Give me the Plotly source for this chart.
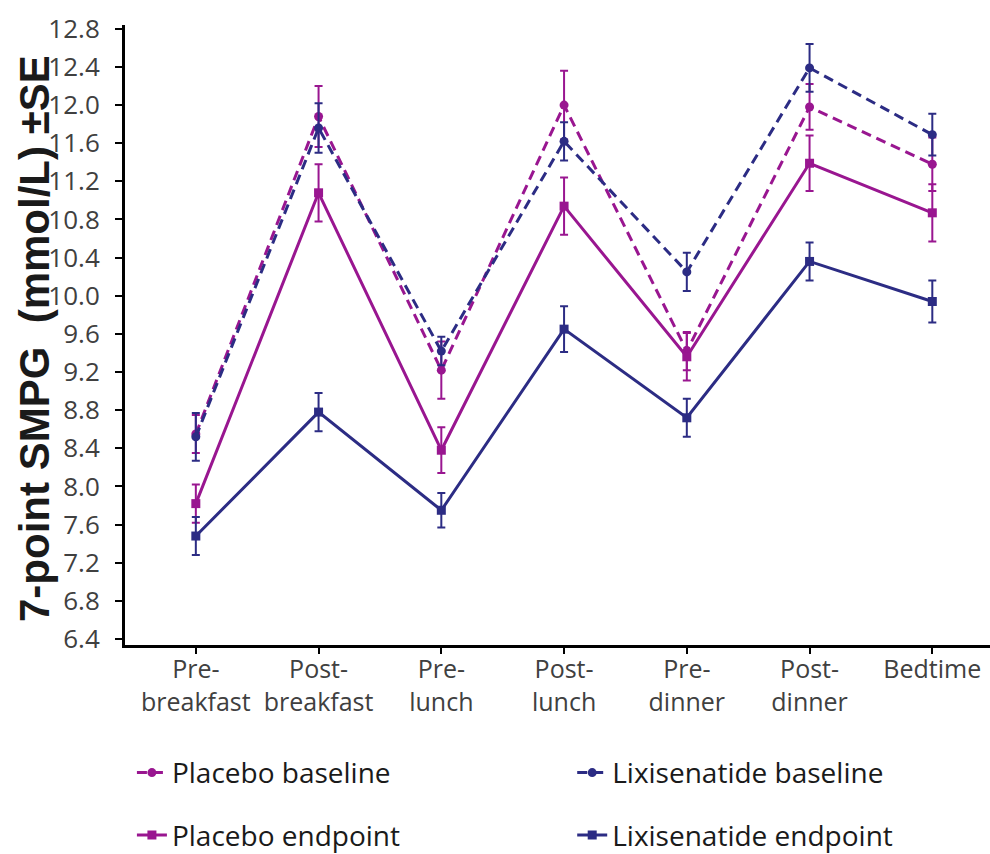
import plotly.graph_objects as go

categories = ["Pre-breakfast", "Post-breakfast", "Pre-lunch", "Post-lunch",
              "Pre-dinner", "Post-dinner", "Bedtime"]
tick_labels = ["Pre-<br>breakfast", "Post-<br>breakfast", "Pre-<br>lunch", "Post-<br>lunch",
               "Pre-<br>dinner", "Post-<br>dinner", "Bedtime"]

placebo_baseline = [8.55, 11.88, 9.22, 12.00, 9.42, 11.98, 11.38]
placebo_baseline_se = [0.20, 0.32, 0.30, 0.36, 0.20, 0.24, 0.28]
lixi_baseline = [8.52, 11.76, 9.42, 11.62, 10.25, 12.39, 11.69]
lixi_baseline_se = [0.25, 0.26, 0.15, 0.20, 0.20, 0.25, 0.22]
placebo_endpoint = [7.82, 11.08, 8.38, 10.94, 9.36, 11.39, 10.87]
placebo_endpoint_se = [0.20, 0.30, 0.24, 0.30, 0.25, 0.29, 0.30]
lixi_endpoint = [7.48, 8.78, 7.75, 9.65, 8.72, 10.36, 9.94]
lixi_endpoint_se = [0.20, 0.20, 0.18, 0.24, 0.20, 0.20, 0.22]

MAG = "#991690"
BLUE = "#2c2c84"

series = [
    ("Placebo baseline", placebo_baseline, placebo_baseline_se, MAG, "10px,6px", "circle", "legend"),
    ("Lixisenatide baseline", lixi_baseline, lixi_baseline_se, BLUE, "10px,6px", "circle", "legend2"),
    ("Placebo endpoint", placebo_endpoint, placebo_endpoint_se, MAG, "solid", "square", "legend3"),
    ("Lixisenatide endpoint", lixi_endpoint, lixi_endpoint_se, BLUE, "solid", "square", "legend4"),
]

fig = go.Figure()
for name, vals, se, col, dash, sym, leg in series:
    fig.add_trace(go.Scatter(
        x=categories, y=vals, name=name, mode="lines+markers",
        line=dict(color=col, width=3, dash=dash),
        marker=dict(color=col, size=9, symbol=sym),
        error_y=dict(type="data", array=se, visible=True, color=col, thickness=2, width=4),
        legend=leg,
    ))

legend_font = dict(family="Open Sans", size=28, color="#1a1a1a")


def leg(x, y):
    return dict(orientation="h", x=x, xanchor="left", y=y, yanchor="middle",
                yref="container", font=legend_font, bgcolor="rgba(0,0,0,0)")


fig.update_layout(
    width=990, height=854,
    margin=dict(l=125, r=0, t=25, b=209),
    paper_bgcolor="white", plot_bgcolor="white",
    font=dict(family="Open Sans", color="#404040"),
    showlegend=True,
    legend=leg(0.008, 0.095),
    legend2=leg(0.517, 0.095),
    legend3=leg(0.008, 0.022),
    legend4=leg(0.517, 0.022),
)

fig.update_xaxes(
    type="category", range=[-0.577, 6.47], automargin=False,
    tickvals=categories, ticktext=tick_labels,
    showline=True, linecolor="black", linewidth=3,
    ticks="outside", ticklen=6, tickwidth=2, tickcolor="black",
    showgrid=False, zeroline=False, ticklabelstandoff=-6,
    tickfont=dict(family="Open Sans", size=25, color="#404040"),
)
fig.update_yaxes(
    range=[6.337, 12.84], tick0=6.4, dtick=0.4, tickformat=".1f", automargin=False,
    showline=True, linecolor="black", linewidth=3,
    ticks="outside", ticklen=7, tickwidth=2, tickcolor="black",
    showgrid=False, zeroline=False, ticklabelstandoff=10,
    tickfont=dict(family="Open Sans", size=26, color="#404040"),
)

fig.add_annotation(
    text="7-point SMPG  (mmol/L) ±SE", textangle=-90,
    xref="paper", yref="paper", x=0, y=0.5, xanchor="center", yanchor="middle",
    xshift=-91, yshift=-4, showarrow=False,
    font=dict(family="Liberation Sans", size=42, color="#1a1a1a", weight="bold"),
)

fig.write_html("out.html")
